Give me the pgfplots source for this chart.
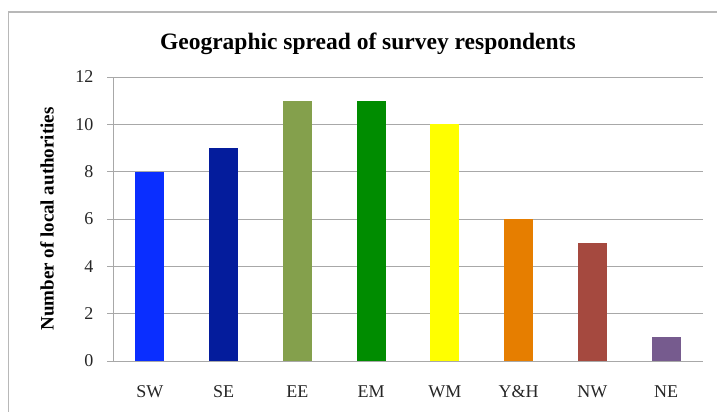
\documentclass[border=0pt]{standalone}
\usepackage{fontspec}
\setmainfont{Liberation Serif}
\usepackage{pgfplots}
\pgfplotsset{compat=1.18}

\definecolor{cSW}{HTML}{0A2EFF}
\definecolor{cSE}{HTML}{041C9C}
\definecolor{cEE}{HTML}{84A04C}
\definecolor{cEM}{HTML}{008C00}
\definecolor{cWM}{HTML}{FFFF00}
\definecolor{cYH}{HTML}{E67E00}
\definecolor{cNW}{HTML}{A5493F}
\definecolor{cNE}{HTML}{765B8E}
\definecolor{gridgray}{HTML}{A8A8A8}
\definecolor{framegray}{HTML}{B8B8B8}

\begin{document}
\begin{tikzpicture}
\begin{axis}[
  at={(113pt,51pt)}, anchor=south west,
  scale only axis,
  width=590pt, height=284pt,
  xmin=0, xmax=8,
  ymin=0, ymax=12,
  ytick={0,2,...,12},
  xtick={0.5,1.5,...,7.5},
  xticklabels={SW,SE,EE,EM,WM,Y\&H,NW,NE},
  major x tick style={draw=none},
  extra x ticks={0,1,...,8},
  extra x tick labels={},
  extra x tick style={major tick length=6pt, tick style={draw=gridgray, line width=0.8pt}, grid=none},
  tick align=outside,
  major tick length=6pt,
  ytick style={draw=gridgray, line width=0.8pt},
  axis lines*=left,
  axis line style={draw=gridgray, line width=0.8pt},
  ymajorgrids,
  grid style={draw=gridgray, line width=0.8pt},
  /pgf/number format/assume math mode=true,
  tick label style={font=\fontsize{18}{21}\selectfont, text=black!85},
  xticklabel style={yshift=-15pt},
  yticklabel style={xshift=-10pt},
  title={Geographic spread of survey respondents},
  title style={font=\fontsize{23.5}{27}\selectfont\bfseries, at={(axis description cs:0.432,1)}, anchor=center, yshift=27pt},
  ylabel={Number of local authorities},
  ylabel style={font=\fontsize{19}{22}\selectfont\bfseries, at={(axis description cs:-0.1119,0.5)}, anchor=center},
  bar width=29pt,
  ybar=0pt,
  bar shift=0pt,
]
\addplot[fill=cSW, draw=none] coordinates {(0.5,8)};
\addplot[fill=cSE, draw=none] coordinates {(1.5,9)};
\addplot[fill=cEE, draw=none] coordinates {(2.5,11)};
\addplot[fill=cEM, draw=none] coordinates {(3.5,11)};
\addplot[fill=cWM, draw=none] coordinates {(4.5,10)};
\addplot[fill=cYH, draw=none] coordinates {(5.5,6)};
\addplot[fill=cNW, draw=none] coordinates {(6.5,5)};
\addplot[fill=cNE, draw=none] coordinates {(7.5,1)};
\end{axis}
% outer chart frame (left and top edges)
\draw[framegray, line width=1.5pt] (8.5pt,0) -- (8.5pt,400pt) -- (717pt,400pt);
\pgfresetboundingbox
\path[use as bounding box] (0,0) rectangle (717pt,412pt);
\end{tikzpicture}
\end{document}
